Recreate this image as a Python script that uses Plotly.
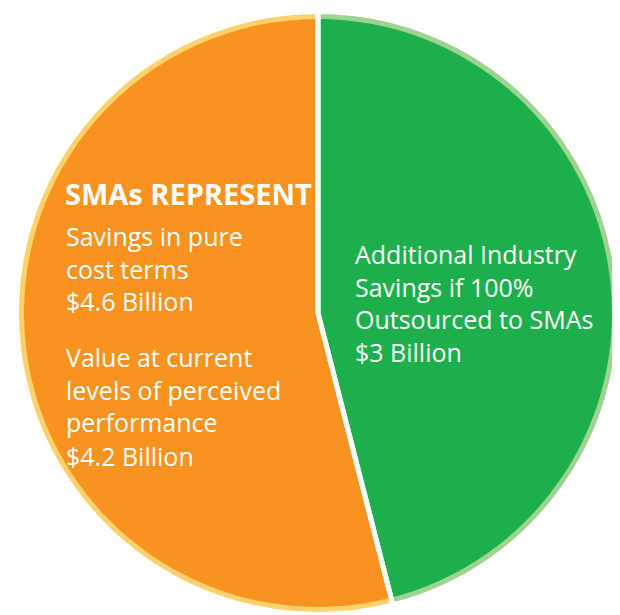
import plotly.graph_objects as go

labels = ["Additional Industry Savings if 100% Outsourced to SMAs", "SMAs Represent"]
shares = [46, 54]
fill_colors = ["#1CAF4B", "#F7931E"]
rim_colors = ["#9FD392", "#FDD16C"]

# page body has an 8px margin, so the figure is laid out in a 612x607 box
W, H = 612, 607
cx, cy = 310, 305
r_rim, r_in = 301.5, 294

def dom(r):
    return dict(x=[max(0, (cx - r) / W), min(1, (cx + r) / W)],
                y=[max(0, (H - cy - r) / H), min(1, (H - cy + r) / H)])

common = dict(labels=labels, values=shares, sort=False, direction="clockwise", rotation=0,
              textinfo="none", hoverinfo="skip", showlegend=False)

fig = go.Figure()
# light outer rim
fig.add_trace(go.Pie(**common, marker=dict(colors=rim_colors, line=dict(width=0)), domain=dom(r_rim)))
# main fill
fig.add_trace(go.Pie(**common, marker=dict(colors=fill_colors, line=dict(width=0)), domain=dom(r_in)))
# white separators (transparent slices, white outlines)
fig.add_trace(go.Pie(**common, marker=dict(colors=["rgba(0,0,0,0)"] * len(shares),
                                           line=dict(color="white", width=5)), domain=dom(r_rim)))

FONT = "Open Sans"
def note(text, x, y, size=25, bold=False):
    fig.add_annotation(text=text, x=x / W, y=1 - y / H, xref="paper", yref="paper",
                       xanchor="left", yanchor="top", align="left", showarrow=False,
                       font=dict(family=FONT, size=size, color="white",
                                 weight="bold" if bold else "normal"))

note("SMAs REPRESENT", 55, 164, size=29, bold=True)
note("Savings in pure<br>cost terms<br>$4.6 Billion", 56, 209)
note("Value at current<br>levels of perceived<br>performance", 56, 330)
note("$4.2 Billion", 56, 429)
note("Additional Industry<br>Savings if 100%<br>Outsourced to SMAs<br>$3 Billion", 345, 227)

fig.update_layout(width=W, height=H, margin=dict(l=0, r=0, t=0, b=0),
                  paper_bgcolor="white", plot_bgcolor="white")
fig.write_html("out.html")
